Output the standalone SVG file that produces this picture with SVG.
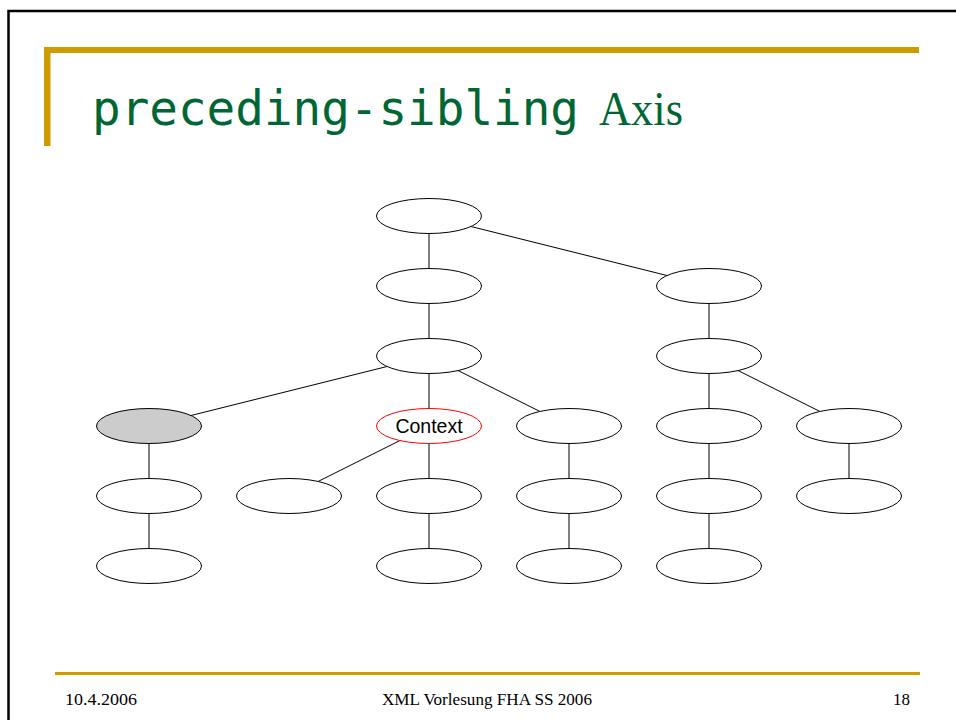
<svg xmlns="http://www.w3.org/2000/svg" width="956" height="720" viewBox="0 0 956 720">
  <style>
    .node { fill: #ffffff; stroke: #000000; stroke-width: 1; }
    .edge { stroke: #000000; stroke-width: 1; fill: none; }
    .gold { fill: #cf9c00; }
    .foot { font-family: "Liberation Serif", "DejaVu Serif", serif; font-size: 16px; fill: #000000; }
  </style>
  <rect x="0" y="0" width="956" height="720" fill="#ffffff"/>

  <!-- slide frame -->
  <path d="M8.5,730 V11 H970" fill="none" stroke="#000000" stroke-width="2.5"/>

  <!-- title bars -->
  <rect class="gold" x="44" y="47" width="875" height="6"/>
  <rect class="gold" x="44" y="47" width="6.5" height="99"/>

  <!-- title -->
  <text x="92" y="125" font-family="'DejaVu Sans Mono', monospace" font-size="48" fill="#006633" textLength="487" lengthAdjust="spacingAndGlyphs">preceding-sibling</text>
  <text x="599" y="125" font-family="'Liberation Serif', serif" font-size="48" fill="#006633" textLength="84" lengthAdjust="spacingAndGlyphs">Axis</text>

  <!-- connectors -->
  <g id="connectors">
    <line class="edge" x1="429" y1="216" x2="429" y2="286"/>
    <line class="edge" x1="429" y1="216" x2="709" y2="286"/>
    <line class="edge" x1="429" y1="286" x2="429" y2="356"/>
    <line class="edge" x1="709" y1="286" x2="709" y2="356"/>
    <line class="edge" x1="429" y1="356" x2="149" y2="426"/>
    <line class="edge" x1="429" y1="356" x2="429" y2="426"/>
    <line class="edge" x1="429" y1="356" x2="569" y2="426"/>
    <line class="edge" x1="709" y1="356" x2="709" y2="426"/>
    <line class="edge" x1="709" y1="356" x2="849" y2="426"/>
    <line class="edge" x1="149" y1="426" x2="149" y2="496"/>
    <line class="edge" x1="149" y1="496" x2="149" y2="566"/>
    <line class="edge" x1="429" y1="426" x2="289" y2="496"/>
    <line class="edge" x1="429" y1="426" x2="429" y2="496"/>
    <line class="edge" x1="429" y1="496" x2="429" y2="566"/>
    <line class="edge" x1="569" y1="426" x2="569" y2="496"/>
    <line class="edge" x1="569" y1="496" x2="569" y2="566"/>
    <line class="edge" x1="709" y1="426" x2="709" y2="496"/>
    <line class="edge" x1="709" y1="496" x2="709" y2="566"/>
    <line class="edge" x1="849" y1="426" x2="849" y2="496"/>
  </g>

  <!-- nodes -->
  <g id="root"><ellipse class="node" cx="429" cy="216" rx="52.5" ry="17.5"/></g>
  <g id="n1a"><ellipse class="node" cx="429" cy="286" rx="52.5" ry="17.5"/></g>
  <g id="n1b"><ellipse class="node" cx="709" cy="286" rx="52.5" ry="17.5"/></g>
  <g id="n2a"><ellipse class="node" cx="429" cy="356" rx="52.5" ry="17.5"/></g>
  <g id="n2b"><ellipse class="node" cx="709" cy="356" rx="52.5" ry="17.5"/></g>
  <g id="sibling"><ellipse class="node" cx="149" cy="426" rx="52.5" ry="17.5" style="fill:#cccccc"/></g>
  <g id="context">
    <ellipse class="node" cx="429" cy="426" rx="52.5" ry="17.5" style="stroke:#ff0000"/>
    <text x="429" y="433" text-anchor="middle" font-family="'Liberation Sans', Arial, sans-serif" font-size="19.5" fill="#000000">Context</text>
  </g>
  <g id="n3c"><ellipse class="node" cx="569" cy="426" rx="52.5" ry="17.5"/></g>
  <g id="n3d"><ellipse class="node" cx="709" cy="426" rx="52.5" ry="17.5"/></g>
  <g id="n3e"><ellipse class="node" cx="849" cy="426" rx="52.5" ry="17.5"/></g>
  <g id="n4a"><ellipse class="node" cx="149" cy="496" rx="52.5" ry="17.5"/></g>
  <g id="n4b"><ellipse class="node" cx="289" cy="496" rx="52.5" ry="17.5"/></g>
  <g id="n4c"><ellipse class="node" cx="429" cy="496" rx="52.5" ry="17.5"/></g>
  <g id="n4d"><ellipse class="node" cx="569" cy="496" rx="52.5" ry="17.5"/></g>
  <g id="n4e"><ellipse class="node" cx="709" cy="496" rx="52.5" ry="17.5"/></g>
  <g id="n4f"><ellipse class="node" cx="849" cy="496" rx="52.5" ry="17.5"/></g>
  <g id="n5a"><ellipse class="node" cx="149" cy="566" rx="52.5" ry="17.5"/></g>
  <g id="n5b"><ellipse class="node" cx="429" cy="566" rx="52.5" ry="17.5"/></g>
  <g id="n5c"><ellipse class="node" cx="569" cy="566" rx="52.5" ry="17.5"/></g>
  <g id="n5d"><ellipse class="node" cx="709" cy="566" rx="52.5" ry="17.5"/></g>

  <!-- footer -->
  <rect class="gold" x="55" y="672" width="865" height="3"/>
  <text class="foot" x="65" y="705" textLength="72" lengthAdjust="spacingAndGlyphs">10.4.2006</text>
  <text class="foot" x="382" y="705" textLength="210" lengthAdjust="spacingAndGlyphs">XML Vorlesung FHA SS 2006</text>
  <text class="foot" x="893" y="705" textLength="17" lengthAdjust="spacingAndGlyphs">18</text>
</svg>
